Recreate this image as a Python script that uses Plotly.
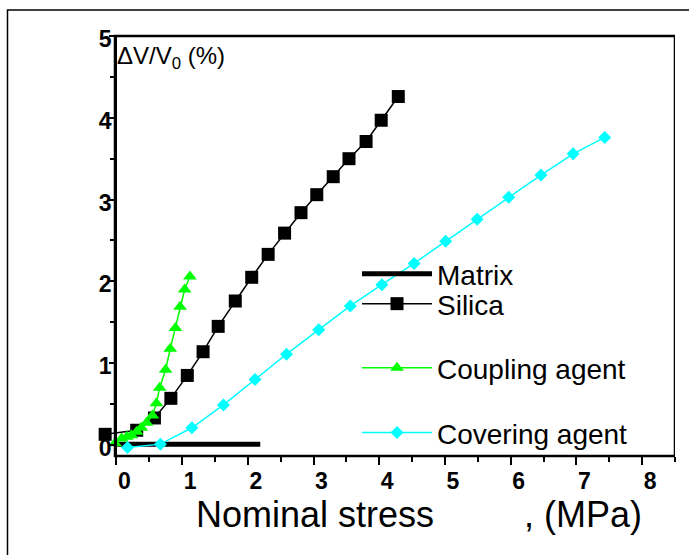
import plotly.graph_objects as go

# ---- data ----
matrix_x = [0.0, 0.5, 1.0, 1.5, 2.0, 2.19]
matrix_y = [0.01, 0.01, 0.01, 0.01, 0.01, 0.01]

silica_x = [-0.17, 0.31, 0.58, 0.83, 1.08, 1.32, 1.55, 1.81, 2.06, 2.31, 2.56, 2.81, 3.05, 3.30, 3.54, 3.80, 4.03, 4.29]
silica_y = [0.13, 0.18, 0.33, 0.57, 0.85, 1.14, 1.45, 1.76, 2.05, 2.33, 2.59, 2.84, 3.06, 3.28, 3.50, 3.71, 3.97, 4.26]

coupling_x = [-0.02, 0.08, 0.16, 0.23, 0.31, 0.38, 0.46, 0.55, 0.61, 0.66, 0.75, 0.82, 0.90, 0.97, 1.04, 1.12]
coupling_y = [0.02, 0.08, 0.10, 0.12, 0.16, 0.21, 0.27, 0.36, 0.51, 0.70, 0.92, 1.175, 1.43, 1.69, 1.90, 2.06]

covering_x = [0.17, 0.67, 1.15, 1.63, 2.11, 2.59, 3.08, 3.56, 4.04, 4.53, 5.01, 5.49, 5.97, 6.46, 6.95, 7.43]
covering_y = [-0.03, 0.01, 0.21, 0.49, 0.80, 1.11, 1.41, 1.70, 1.96, 2.22, 2.49, 2.76, 3.03, 3.30, 3.56, 3.76]

x_ticks = [0, 1, 2, 3, 4, 5, 6, 7, 8]
y_ticks = [0, 1, 2, 3, 4, 5]

FONT = "Liberation Sans, Arial, sans-serif"

# geometry: the x axis reaches 20 px left of the y axis so the first Silica
# point (left of the y axis) can be drawn; the frame starts at the y axis.
L, R, W = 95, 14, 689
PLOT_W = W - L - R
X0, X1 = -0.02, 8.5
d = 20 / PLOT_W
px_per_unit = PLOT_W * (1 - d) / (X1 - X0)
XR0 = X0 - 20 / px_per_unit


def px_x(p):
    return (p - L) / PLOT_W


fig = go.Figure()

fig.add_trace(go.Scatter(x=matrix_x, y=matrix_y, mode="lines", name="Matrix",
                         line=dict(color="black", width=5), legend="legend"))
fig.add_trace(go.Scatter(x=silica_x, y=silica_y, mode="lines+markers", name="Silica",
                         line=dict(color="black", width=1.5),
                         marker=dict(symbol="square", size=13, color="black"),
                         cliponaxis=False, legend="legend2"))
fig.add_trace(go.Scatter(x=coupling_x, y=coupling_y, mode="lines+markers", name="Coupling agent",
                         line=dict(color="#00ff00", width=1.5),
                         marker=dict(symbol="triangle-up", size=12, color="#00ff00"),
                         cliponaxis=False, legend="legend3"))
fig.add_trace(go.Scatter(x=covering_x, y=covering_y, mode="lines+markers", name="Covering agent",
                         line=dict(color="#00ffff", width=1.5),
                         marker=dict(symbol="diamond", size=10, color="#00ffff"),
                         cliponaxis=False, legend="legend4"))


def leg(y):
    return dict(x=px_x(357), y=y, xanchor="left", yanchor="middle",
                bgcolor="rgba(0,0,0,0)", borderwidth=0, itemwidth=70,
                font=dict(family=FONT, size=28, color="black"))


fig.update_layout(
    width=689, height=555,
    margin=dict(l=L, r=R, t=36, b=99),
    paper_bgcolor="white", plot_bgcolor="white",
    font=dict(family=FONT, color="black"),
    showlegend=True,
    legend=leg(0.433), legend2=leg(0.362), legend3=leg(0.2095), legend4=leg(0.055),
    xaxis=dict(domain=[0, 1], range=[XR0, X1], tickvals=x_ticks, ticktext=[str(v) for v in x_ticks],
               showgrid=False, zeroline=False, showline=False,
               ticks="outside", ticklen=8, tickwidth=2, tickcolor="black",
               tickfont=dict(family=FONT, size=23, color="black", weight="bold"),
               ticklabelshift=8, ticklabelstandoff=-4,
               minor=dict(dtick=0.5, ticks="outside", ticklen=5, tickwidth=2, tickcolor="black")),
    yaxis=dict(range=[-0.135, 5.0], anchor="free", position=d,
               tickvals=y_ticks, ticktext=[str(v) for v in y_ticks],
               showgrid=False, zeroline=False, showline=True, linecolor="black", linewidth=2.5,
               mirror=True, ticks="outside", ticklen=5, tickwidth=2, tickcolor="black",
               tickfont=dict(family=FONT, size=23, color="black", weight="bold"),
               ticklabelshift=3, ticklabelstandoff=-7,
               minor=dict(dtick=0.5, ticks="outside", ticklen=4, tickwidth=2, tickcolor="black")),
    annotations=[
        dict(text="ΔV/V<sub>0</sub> (%)", xref="paper", yref="paper", x=px_x(115), y=0.95,
             xanchor="left", yanchor="middle", showarrow=False,
             font=dict(family=FONT, size=24, color="black")),
        dict(text="Nominal stress" + "\u00a0" * 9 + ", (MPa)", xref="paper", yref="paper",
             x=px_x(419), y=-0.139, xanchor="center", yanchor="middle", showarrow=False,
             font=dict(family=FONT, size=36, color="black")),
    ],
    shapes=[
        # axes frame, starting at the y axis
        dict(type="rect", xref="x", yref="paper", x0=X0, x1=X1, y0=0, y1=1,
             line=dict(color="black", width=2.5), fillcolor="rgba(0,0,0,0)", layer="below"),
        # outer figure border
        dict(type="rect", xref="paper", yref="paper", x0=px_x(7.5), x1=px_x(720), y0=-0.3, y1=1.062,
             line=dict(color="black", width=1.5), fillcolor="rgba(0,0,0,0)", layer="below"),
    ],
)

fig.write_html("out.html")
